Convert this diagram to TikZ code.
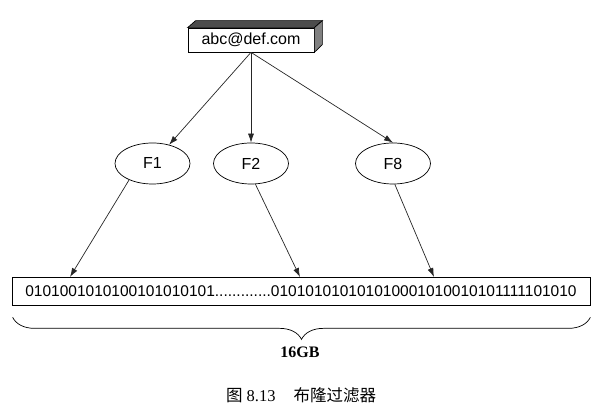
\documentclass[tikz,border=0pt]{standalone}
\usepackage{fontspec}
\setmainfont{Liberation Serif}
\setsansfont{Liberation Sans}
\newfontfamily\cjk{Noto Sans CJK SC}
\usetikzlibrary{arrows.meta,shapes.geometric,decorations.pathreplacing}

\begin{document}
\begin{tikzpicture}[x=1pt, y=1pt, line width=0.7pt,
	link/.style = {-{Latex[length=9pt,width=6pt]}, black!85},
	hashfn/.style = {draw, ellipse, minimum width=75pt, minimum height=41pt, inner sep=0pt, font=\sffamily\fontsize{16}{18}\selectfont},
	]
	\useasboundingbox (0,0) rectangle (604,417);
	% the e-mail box, drawn as a block
	\node [draw, fill=white, minimum width=126pt, minimum height=24pt, inner sep=0pt, font=\sffamily\fontsize{16}{18}\selectfont] (mail) at (251,377) {abc@def.com};
	\draw [fill=black!70] (mail.north west) -- ++(8,7) -- ([shift={(8,7)}]mail.north east) -- (mail.north east) -- cycle;
	\draw [fill=black!50] (mail.north east) -- ++(8,7) -- ++(0,-24) -- (mail.south east) -- cycle;
	% hash functions
	\node [hashfn] (f1) at (152.5,253.5) {F1};
	\node [hashfn] (f2) at (251,253.5) {F2};
	\node [hashfn] (f8) at (393,253.5) {F8};
	% bit array
	\node [draw, minimum width=578pt, minimum height=28pt, inner sep=0pt, font=\sffamily\fontsize{15.5}{18}\selectfont] (bits) at (301,126) {0101001010100101010101.............010101010101010001010010101111101010};
	\coordinate (h1) at (70,140);
	\coordinate (h2) at (300,140);
	\coordinate (h8) at (434,140);
	\draw [link] (mail.south) -- (f1);
	\draw [link] (mail.south) -- (f2);
	\draw [link] (mail.south) -- (f8.north);
	\draw [link] (f1.215) -- (h1);
	\draw [link] (f2.282) -- (h2);
	\draw [link] (f8.275) -- (h8);
	% size of the array
	\draw [decorate, decoration={brace, mirror, amplitude=22pt}] ([shift={(1,-12)}]bits.south west) -- ([yshift=-12pt]bits.south east);
	\node [font=\bfseries\fontsize{16}{18}\selectfont] (size) at (300,65) {16GB};
	\node [font=\fontsize{16.5}{18}\selectfont] (caption) at (301,22) {{\cjk 图} 8.13\hspace{18pt}{\cjk 布隆过滤器}};
\end{tikzpicture}
\end{document}
